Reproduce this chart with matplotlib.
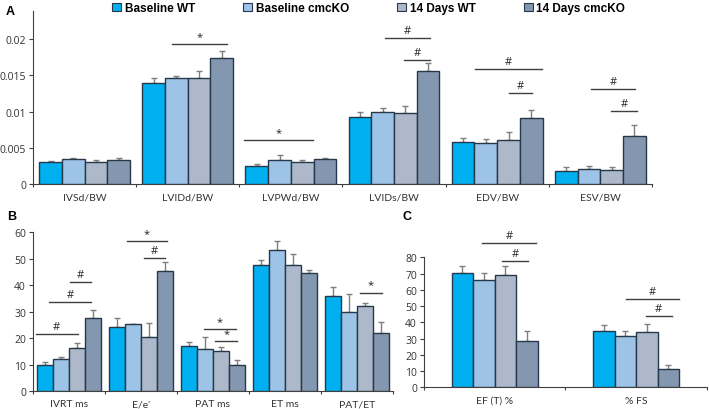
import numpy as np
import matplotlib
matplotlib.use('Agg')
import matplotlib.pyplot as plt
from matplotlib.patches import Patch

plt.rcParams['font.family'] = ['Open Sans', 'DejaVu Sans']

# grupos y colores
grupos = ['Baseline WT', 'Baseline cmcKO', '14 Days WT', '14 Days cmcKO']
colores = ['#00B0F0', '#9DC3E6', '#ADB9CA', '#8497B0']

# Panel A
cat_a = ['IVSd/BW', 'LVIDd/BW', 'LVPWd/BW', 'LVIDs/BW', 'EDV/BW', 'ESV/BW']
val_a = [
    [0.0030, 0.0140, 0.0025, 0.0092, 0.0058, 0.0018],
    [0.0034, 0.0147, 0.0033, 0.0100, 0.0057, 0.0021],
    [0.0031, 0.0147, 0.0031, 0.0098, 0.0061, 0.0019],
    [0.0033, 0.0174, 0.0034, 0.0156, 0.0091, 0.0066],
]
err_a = [
    [0.0002, 0.0006, 0.0002, 0.0007, 0.0005, 0.0005],
    [0.0002, 0.0002, 0.0007, 0.0005, 0.0005, 0.0004],
    [0.0002, 0.0009, 0.0002, 0.0010, 0.0011, 0.0004],
    [0.0003, 0.0010, 0.0002, 0.0011, 0.0011, 0.0015],
]
# (categoria, desde, hasta, altura, texto)
sig_a = [
    (1, -0.15, 0.38, 0.0193, '*'),
    (2, -0.455, 0.214, 0.0061, '*'),
    (3, -0.088, 0.348, 0.0202, '#'),
    (3, 0.096, 0.348, 0.0171, '#'),
    (4, -0.216, 0.434, 0.0159, '#'),
    (4, 0.114, 0.337, 0.0126, '#'),
    (5, -0.092, 0.335, 0.0131, '#'),
    (5, 0.102, 0.354, 0.0101, '#'),
]

# Panel B
cat_b = ['IVRT ms', "E/e'", 'PAT ms', 'ET ms', 'PAT/ET']
val_b = [
    [9.8, 24.3, 16.8, 47.6, 35.8],
    [11.9, 25.1, 16.0, 53.3, 29.7],
    [16.4, 20.3, 15.1, 47.5, 31.9],
    [27.5, 45.3, 9.7, 44.7, 21.8],
]
err_b = [
    [1.0, 3.2, 1.6, 2.0, 3.4],
    [0.8, 0.1, 4.3, 3.2, 7.0],
    [1.7, 5.4, 1.4, 4.3, 1.3],
    [3.0, 3.4, 2.1, 1.1, 4.4],
]
sig_b = [
    (0, -0.458, 0.121, 21.5, '#'),
    (0, -0.274, 0.306, 33.5, '#'),
    (0, 0.014, 0.306, 41.1, '#'),
    (1, -0.19, 0.357, 56.6, '*'),
    (1, 0.046, 0.329, 50.3, '#'),
    (2, -0.121, 0.315, 23.3, '*'),
    (2, 0.028, 0.337, 18.7, '*'),
    (4, 0.046, 0.343, 37.1, '*'),
]

# Panel C
cat_c = ['EF (T) %', '% FS']
val_c = [
    [70.4, 34.7],
    [66.1, 31.6],
    [69.1, 34.3],
    [28.7, 11.1],
]
err_c = [
    [4.5, 3.5],
    [4.1, 2.9],
    [5.4, 4.5],
    [5.8, 2.4],
]
sig_c = [
    (0, -0.092, 0.292, 88.6, '#'),
    (0, 0.049, 0.237, 77.9, '#'),
    (1, -0.072, 0.304, 54.4, '#'),
    (1, 0.067, 0.25, 43.7, '#'),
]


def dibujar_panel(ax, categorias, valores, errores, sig, ancho, ymax, yticks, fmt_tick):
    x = np.arange(len(categorias))
    offsets = (np.arange(4) - 1.5) * ancho
    for k in range(4):
        ax.bar(x + offsets[k], valores[k], width=ancho, color=colores[k],
               edgecolor='#27384a', linewidth=1.0, zorder=3)
        ax.errorbar(x + offsets[k], valores[k],
                    yerr=[np.zeros(len(categorias)), errores[k]],
                    fmt='none', ecolor='#7f7f7f', elinewidth=1.0, capsize=2,
                    capthick=1.0, zorder=2)
    for c, x0, x1, y, txt in sig:
        ax.plot([c + x0, c + x1], [y, y], color='#404040', lw=1.0, clip_on=False)
        ax.annotate(txt, ((c + (x0 + x1) / 2), y), xytext=(0, 1.5),
                    textcoords='offset points', ha='center', va='bottom',
                    fontsize=8, color='#222222', annotation_clip=False)
    ax.set_xlim(-0.5, len(categorias) - 0.5)
    ax.set_ylim(0, ymax)
    ax.set_yticks(yticks)
    ax.set_yticklabels([fmt_tick(t) for t in yticks], fontsize=7.5, color='#333333')
    # etiquetas de categoria como texto, ticks solo en los limites de grupo
    ax.set_xticks(np.arange(len(categorias) + 1) - 0.5)
    ax.set_xticklabels([])
    for i, nombre in enumerate(categorias):
        ax.annotate(nombre, (i, 0), xytext=(0, -6), textcoords='offset points',
                    ha='center', va='top', fontsize=7.5, color='#333333',
                    family=['Lato', 'DejaVu Sans'], annotation_clip=False)
    ax.tick_params(axis='x', length=2.5, width=0.8, color='#404040', direction='out')
    ax.tick_params(axis='y', length=3, width=0.8, color='#404040', pad=2)
    for s in ['top', 'right']:
        ax.spines[s].set_visible(False)
    ax.spines['left'].set_color('#404040')
    ax.spines['bottom'].set_color('#404040')


fig = plt.figure(figsize=(7.09, 4.10), dpi=100)

ax_a = fig.add_axes([0.0465, 0.5488, 0.873, 0.422])
dibujar_panel(ax_a, cat_a, val_a, err_a, sig_a, 0.22, 0.0239,
              [0, 0.005, 0.01, 0.015, 0.02],
              lambda t: '0' if t == 0 else ('%g' % t))

ax_b = fig.add_axes([0.0465, 0.0439, 0.5078, 0.3878])
dibujar_panel(ax_b, cat_b, val_b, err_b, sig_b, 0.22, 60,
              list(range(0, 61, 10)), lambda t: str(t))

ax_c = fig.add_axes([0.598, 0.0529, 0.399, 0.317])
dibujar_panel(ax_c, cat_c, val_c, err_c, sig_c, 0.152, 80,
              list(range(0, 81, 10)), lambda t: str(t))

# etiquetas de panel
fig.text(0.008, 0.985, 'A', fontsize=9, fontweight='bold', va='top',
         family=['Liberation Sans', 'DejaVu Sans'])
fig.text(0.010, 0.485, 'B', fontsize=9, fontweight='bold', va='top',
         family=['Liberation Sans', 'DejaVu Sans'])
fig.text(0.567, 0.485, 'C', fontsize=9, fontweight='bold', va='top',
         family=['Liberation Sans', 'DejaVu Sans'])

# leyenda
handles = [Patch(facecolor=colores[k], edgecolor='#27384a', linewidth=0.8) for k in range(4)]
fig.legend(handles, grupos, loc='center', bbox_to_anchor=(0.52, 0.978), ncol=4,
           frameon=False, handlelength=0.75, handleheight=0.75, handletextpad=0.3,
           columnspacing=4.1, borderpad=0.1,
           prop={'family': ['Liberation Sans', 'DejaVu Sans'], 'weight': 'bold', 'size': 8.5})

fig.savefig('out.png', dpi=100)
